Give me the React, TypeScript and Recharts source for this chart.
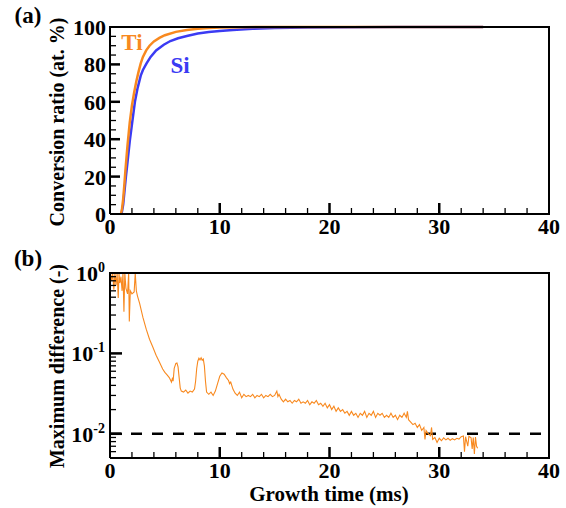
import { LineChart, Line, XAxis, YAxis, ReferenceLine } from "recharts";

// ─── Style ──────────────────────────────────────────────────────────────────
const FONT = '"Liberation Serif", "Times New Roman", serif';
const ORANGE = "#f8891f";
const BLUE = "#3b3bf3";
const INK = "#000";

// ─── Data ───────────────────────────────────────────────────────────────────
const timeTicks = [0, 2, 4, 6, 8, 10, 12, 14, 16, 18, 20, 22, 24, 26, 28, 30, 32, 34, 36, 38, 40];
const ratioTicks = [0, 5, 10, 15, 20, 25, 30, 35, 40, 45, 50, 55, 60, 65, 70, 75, 80, 85, 90, 95, 100];
const diffTicks = [
  0.005, 0.006, 0.007, 0.008, 0.009, 0.01, 0.02, 0.03, 0.04, 0.05, 0.06, 0.07, 0.08, 0.09,
  0.1, 0.2, 0.3, 0.4, 0.5, 0.6, 0.7, 0.8, 0.9, 1,
];

// axis limits (time in ms, ratio in at. %, difference unitless)
const timeRange = [0, 40];
const ratioRange = [0, 100];
const diffRange = [0.005, 1];

// conversion ratio (at. %) vs growth time (ms)
const tiCurve: [number, number][] = [
  [1.0, 0], [1.1, 3], [1.2, 8], [1.3, 15], [1.4, 23], [1.5, 30], [1.6, 37], [1.7, 43],
  [1.8, 49], [2.0, 58], [2.2, 65], [2.4, 71], [2.6, 76], [2.8, 80.5], [3.0, 84], [3.3, 87.5],
  [3.6, 90], [4.0, 92.3], [4.5, 94.2], [5.0, 95.6], [6.0, 97.4], [7.0, 98.4], [8.0, 99.0],
  [9.0, 99.4], [10, 99.7], [12, 99.9], [14, 100], [34, 100],
];
const siCurve: [number, number][] = [
  [1.05, 0], [1.2, 5], [1.3, 11], [1.45, 20], [1.6, 28], [1.8, 39], [2.0, 48], [2.27, 60],
  [2.5, 67], [2.8, 74], [3.0, 77], [3.33, 80.5], [3.7, 84], [4.2, 87.5], [4.9, 90.5],
  [5.5, 92.5], [6.2, 94], [7.0, 95.2], [8.0, 96.5], [9.0, 97.3], [10, 97.9], [11.2, 98.4],
  [13, 99], [15, 99.4], [18, 99.7], [22, 99.9], [26, 100], [34, 100],
];

// maximum difference (-) vs growth time (ms)
const maxDiff: [number, number][] = [
  [0.05, 1], [0.15, 0.8], [0.25, 1], [0.35, 0.62], [0.45, 1], [0.55, 0.7], [0.65, 1],
  [0.75, 0.49], [0.82, 1], [0.9, 0.75], [1.0, 0.9], [1.1, 0.6], [1.18, 1], [1.27, 0.33],
  [1.35, 1], [1.45, 0.65], [1.6, 0.55], [1.7, 1], [1.76, 0.25], [1.85, 0.6], [2.0, 0.55],
  [2.2, 0.58], [2.3, 1], [2.4, 0.6], [2.5, 0.52], [2.7, 0.42], [3.0, 0.28], [3.3, 0.2],
  [3.6, 0.15], [3.9, 0.12], [4.2, 0.095], [4.5, 0.078], [4.8, 0.064], [5.0, 0.058],
  [5.2, 0.054], [5.4, 0.05], [5.5, 0.047], [5.6, 0.044], [5.7, 0.05], [5.75, 0.045],
  [5.85, 0.065], [6.0, 0.075], [6.1, 0.076], [6.2, 0.068], [6.3, 0.05], [6.4, 0.037],
  [6.5, 0.034], [6.7, 0.033], [6.9, 0.035], [7.1, 0.032], [7.3, 0.034], [7.5, 0.033],
  [7.7, 0.036], [7.8, 0.045], [7.9, 0.065], [8.0, 0.08], [8.1, 0.087], [8.2, 0.083],
  [8.3, 0.088], [8.4, 0.082], [8.5, 0.085], [8.6, 0.07], [8.7, 0.045], [8.8, 0.033],
  [9.0, 0.031], [9.2, 0.033], [9.4, 0.03], [9.6, 0.034], [9.8, 0.042], [10.0, 0.052],
  [10.2, 0.057], [10.4, 0.055], [10.6, 0.05], [10.8, 0.046], [10.9, 0.042], [11.0, 0.044],
  [11.2, 0.036], [11.4, 0.032], [11.6, 0.03], [11.8, 0.033], [12.0, 0.028], [12.2, 0.031],
  [12.4, 0.029], [12.6, 0.03], [12.8, 0.029], [13.0, 0.031], [13.2, 0.028], [13.4, 0.03],
  [13.6, 0.029], [13.8, 0.031], [14.0, 0.028], [14.2, 0.03], [14.4, 0.029], [14.6, 0.031],
  [14.8, 0.029], [15.0, 0.03], [15.2, 0.034], [15.3, 0.029], [15.4, 0.031], [15.6, 0.027],
  [15.8, 0.025], [16.0, 0.027], [16.2, 0.025], [16.4, 0.026], [16.6, 0.024], [16.8, 0.026],
  [17.0, 0.025], [17.2, 0.027], [17.4, 0.024], [17.6, 0.025], [17.8, 0.024], [18.0, 0.026],
  [18.2, 0.023], [18.4, 0.025], [18.6, 0.024], [18.8, 0.026], [19.0, 0.023], [19.2, 0.024],
  [19.4, 0.022], [19.6, 0.024], [19.8, 0.021], [20.0, 0.023], [20.2, 0.02], [20.4, 0.022],
  [20.6, 0.019], [20.8, 0.021], [21.0, 0.019], [21.2, 0.02], [21.4, 0.018], [21.6, 0.019],
  [21.8, 0.017], [22.0, 0.019], [22.2, 0.017], [22.4, 0.018], [22.6, 0.016], [22.8, 0.018],
  [23.0, 0.017], [23.2, 0.019], [23.4, 0.016], [23.6, 0.018], [23.8, 0.017], [24.0, 0.019],
  [24.2, 0.016], [24.4, 0.018], [24.6, 0.017], [24.8, 0.018], [25.0, 0.016], [25.2, 0.017],
  [25.4, 0.016], [25.6, 0.018], [25.8, 0.016], [26.0, 0.017], [26.2, 0.015], [26.4, 0.017],
  [26.6, 0.016], [26.8, 0.018], [27.0, 0.016], [27.1, 0.019], [27.2, 0.015], [27.4, 0.014],
  [27.6, 0.013], [27.8, 0.0135], [28.0, 0.012], [28.2, 0.013], [28.4, 0.011], [28.6, 0.012],
  [28.7, 0.0085], [28.8, 0.011], [29.0, 0.01], [29.2, 0.0095], [29.3, 0.012], [29.4, 0.0085],
  [29.6, 0.009], [29.8, 0.0078], [30.0, 0.0088], [30.2, 0.0082], [30.4, 0.0089],
  [30.6, 0.0084], [30.8, 0.0088], [31.0, 0.0083], [31.2, 0.0087], [31.4, 0.0084],
  [31.6, 0.0088], [31.8, 0.0086], [32.0, 0.0092], [32.2, 0.0094], [32.3, 0.006],
  [32.4, 0.0092], [32.6, 0.007], [32.7, 0.0093], [32.9, 0.0089], [33.0, 0.0065],
  [33.1, 0.009], [33.2, 0.0056], [33.3, 0.0091], [33.4, 0.007], [33.5, 0.0066],
];

const toRows = (pts: [number, number][]) => pts.map(([t, v]) => ({ t, v }));

// plot frame as a closed polyline through the axis limits
const frameRows = (x: number[], y: number[]) =>
  toRows([[x[0], y[0]], [x[1], y[0]], [x[1], y[1]], [x[0], y[1]], [x[0], y[0]]]);

// tick positions along the bottom / left edges (edges themselves are the frame)
const bottomTickRows = (y0: number) =>
  timeTicks.filter((t) => t > timeRange[0] && t < timeRange[1]).map((t) => ({ t, v: y0 }));
const leftTickRows = (ticks: number[]) =>
  ticks.slice(1, -1).map((v) => ({ t: timeRange[0], v }));

const isDecade = (v: number) => Math.abs(Math.log10(v) - Math.round(Math.log10(v))) < 1e-6;

// ─── Tick marks, drawn inward as dots of helper series ──────────────────────
function upTick(p: any) {
  const major = p.payload.t % 10 === 0;
  return (
    <line key={`xt-${p.index}`} x1={p.cx} x2={p.cx} y1={p.cy} y2={p.cy - (major ? 11 : 6)}
      stroke={INK} strokeWidth={major ? 2.5 : 1.3} />
  );
}
function rightTickRatio(p: any) {
  const major = p.payload.v % 20 === 0;
  return (
    <line key={`yt-${p.index}`} x1={p.cx} x2={p.cx + (major ? 10 : 6)} y1={p.cy} y2={p.cy}
      stroke={INK} strokeWidth={major ? 2.5 : 1.3} />
  );
}
function rightTickDiff(p: any) {
  const major = isDecade(p.payload.v);
  return (
    <line key={`yt-${p.index}`} x1={p.cx} x2={p.cx + (major ? 12 : 6)} y1={p.cy} y2={p.cy}
      stroke={INK} strokeWidth={major ? 2.5 : 1.3} />
  );
}

// ─── Tick labels ────────────────────────────────────────────────────────────
function TimeLabel(props: any) {
  const { x, y, payload } = props;
  if (payload.value % 10 !== 0) return <g />;
  return (
    <text x={x} y={y + 20} textAnchor="middle" fontFamily={FONT} fontWeight="bold" fontSize={22} fill={INK}>
      {payload.value}
    </text>
  );
}
function RatioLabel(props: any) {
  const { x, y, payload } = props;
  if (payload.value % 20 !== 0) return <g />;
  return (
    <text x={x - 4} y={y + 8} textAnchor="end" fontFamily={FONT} fontWeight="bold" fontSize={22} fill={INK}>
      {payload.value}
    </text>
  );
}
function DiffLabel(props: any) {
  const { x, y, payload } = props;
  if (!isDecade(payload.value)) return <g />;
  return (
    <text x={x - 5} y={y + 8} textAnchor="end" fontFamily={FONT} fontWeight="bold" fontSize={22} fill={INK}>
      <tspan>10</tspan>
      <tspan dy={-9} fontSize={14}>{Math.round(Math.log10(payload.value))}</tspan>
    </text>
  );
}

// ─── Helpers ────────────────────────────────────────────────────────────────
function Text({ x, y, size = 20, color = INK, rotate = false, children }: any) {
  return (
    <div
      style={{
        position: "absolute",
        left: x,
        top: y,
        transform: `translate(-50%, -50%)${rotate ? " rotate(-90deg)" : ""}`,
        whiteSpace: "nowrap",
        fontFamily: FONT,
        fontWeight: "bold",
        fontSize: size,
        color,
        lineHeight: 1,
      }}
    >
      {children}
    </div>
  );
}

export default function App() {
  return (
    <div style={{ position: "absolute", left: 0, top: 0, width: 566, height: 508, background: "#fff" }}>
      {/* ── (a) conversion ratio ─────────────────────────────────────── */}
      <div style={{ position: "absolute", left: 0, top: 0 }}>
        <LineChart width={566} height={250} margin={{ top: 27, right: 17, bottom: 0, left: 0 }}>
          <XAxis type="number" dataKey="t" domain={timeRange} ticks={timeTicks} interval={0} tickSize={0} tickMargin={0}
            axisLine={false} tickLine={false} tick={<TimeLabel />} height={36} />
          <YAxis type="number" domain={ratioRange} ticks={ratioTicks} interval={0} tickSize={0} tickMargin={0}
            axisLine={false} tickLine={false} tick={<RatioLabel />} width={110} />
          <Line data={toRows(siCurve)} dataKey="v" stroke={BLUE} strokeWidth={2.5} dot={false} isAnimationActive={false} />
          <Line data={toRows(tiCurve)} dataKey="v" stroke={ORANGE} strokeWidth={2.5} dot={false} isAnimationActive={false} />
          <Line data={bottomTickRows(ratioRange[0])} dataKey="v" stroke="none" dot={upTick} activeDot={false} isAnimationActive={false} />
          <Line data={leftTickRows(ratioTicks)} dataKey="v" stroke="none" dot={rightTickRatio} activeDot={false} isAnimationActive={false} />
          <Line data={frameRows(timeRange, ratioRange)} dataKey="v" stroke={INK} strokeWidth={2} dot={false} activeDot={false} isAnimationActive={false} />
        </LineChart>
      </div>

      {/* ── (b) maximum difference ───────────────────────────────────── */}
      <div style={{ position: "absolute", left: 0, top: 250 }}>
        <LineChart width={566} height={258} margin={{ top: 23, right: 17, bottom: 0, left: 0 }}>
          <XAxis type="number" dataKey="t" domain={timeRange} ticks={timeTicks} interval={0} tickSize={0} tickMargin={0}
            axisLine={false} tickLine={false} tick={<TimeLabel />} height={50} />
          <YAxis type="number" scale="log" domain={diffRange} ticks={diffTicks} interval={0} tickSize={0} tickMargin={0}
            axisLine={false} tickLine={false} tick={<DiffLabel />} width={110} />
          <ReferenceLine y={0.01} stroke={INK} strokeWidth={2.5} strokeDasharray="11 10" />
          <Line data={toRows(maxDiff)} dataKey="v" stroke={ORANGE} strokeWidth={1.1} dot={false} isAnimationActive={false} />
          <Line data={bottomTickRows(diffRange[0])} dataKey="v" stroke="none" dot={upTick} activeDot={false} isAnimationActive={false} />
          <Line data={leftTickRows(diffTicks)} dataKey="v" stroke="none" dot={rightTickDiff} activeDot={false} isAnimationActive={false} />
          <Line data={frameRows(timeRange, diffRange)} dataKey="v" stroke={INK} strokeWidth={2} dot={false} activeDot={false} isAnimationActive={false} />
        </LineChart>
      </div>

      <Text x={28} y={15} size={23}>(a)</Text>
      <Text x={28} y={258} size={23}>(b)</Text>
      <Text x={132} y={42} size={23} color={ORANGE}>Ti</Text>
      <Text x={180} y={65} size={23} color={BLUE}>Si</Text>
      <Text x={57} y={122} rotate>Conversion ratio (at. %)</Text>
      <Text x={57} y={366} rotate>Maximum difference (-)</Text>
      <Text x={329} y={494} size={21}>Growth time (ms)</Text>
    </div>
  );
}
